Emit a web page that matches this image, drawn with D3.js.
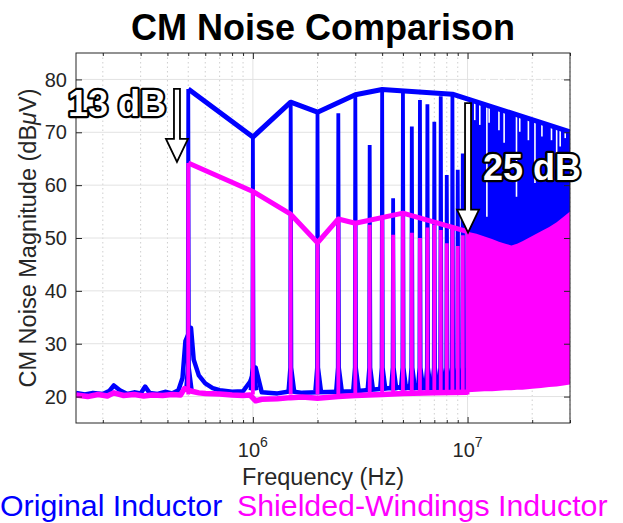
<!DOCTYPE html>
<html>
<head>
<meta charset="utf-8">
<script src="https://cdn.jsdelivr.net/npm/d3@7"></script>
<style>
  html, body { margin: 0; padding: 0; background: #fff; }
  svg { display: block; font-family: "Liberation Sans", Arial, sans-serif; }
</style>
</head>
<body>
<div id="chart"></div>
<script>
// harmonics of the 500 kHz switching frequency (MHz) and peak levels (dBuV)
const harmonicFreq = [0.5, 1, 1.5, 2, 2.5, 3, 3.5, 4, 4.5, 5, 5.5, 6, 6.5, 7, 7.5, 8, 8.5, 9, 9.5, 10]
const bluePeak = [78.2, 69.1, 75.7, 73.7, 73.6, 77.0, 67.6, 78.0, 57.5, 77.8, 71.1, 76.1, 75.3, 72.0, 76.8, 61.9, 77.0, 62.9, 66.0, 75.0]
const pinkPeak = [64.2, 58.8, 54.5, 49.0, 53.6, 52.8, 52.5, 53.5, 50.6, 54.7, 51.0, 50.0, 52.0, 52.5, 51.5, 49.0, 51.8, 48.5, 50.5, 51.2]

// noise floor (MHz / dBuV)
const blueFloorF = [0.15, 0.165, 0.18, 0.2, 0.215, 0.225, 0.24, 0.26, 0.28, 0.3, 0.315, 0.33, 0.36, 0.39, 0.42, 0.45, 0.47, 0.485, 0.515, 0.53, 0.56, 0.6, 0.65, 0.7, 0.8, 0.9, 0.97, 1.03, 1.1, 1.3, 1.5, 1.7, 2, 2.5, 3, 4, 5, 6, 8, 10]
const blueFloor = [20.7, 20.4, 20.7, 20.5, 21.1, 22.1, 21.2, 20.5, 20.8, 20.6, 21.9, 20.7, 20.5, 20.9, 20.6, 21.2, 23.5, 30.5, 33.0, 27.0, 24.0, 22.5, 21.6, 21.2, 20.9, 21.0, 22.8, 25.5, 20.8, 20.6, 21.0, 20.7, 20.8, 20.9, 21.0, 21.5, 21.8, 22.2, 22.5, 22.5]
const pinkFloorF = [0.15, 0.17, 0.19, 0.21, 0.225, 0.25, 0.28, 0.31, 0.34, 0.38, 0.42, 0.46, 0.48, 0.52, 0.56, 0.6, 0.7, 0.8, 0.9, 0.97, 1.03, 1.1, 1.3, 1.5, 1.7, 2, 2.5, 3, 4, 5, 7, 10]
const pinkFloor = [20.3, 20.0, 20.4, 20.1, 20.7, 20.2, 20.4, 20.1, 20.3, 20.2, 20.4, 20.3, 21.5, 21.0, 20.7, 20.6, 20.5, 20.3, 20.2, 20.3, 19.2, 19.5, 19.6, 19.8, 19.9, 19.7, 20.0, 20.2, 20.4, 20.6, 20.7, 20.8]

// dense band above 10 MHz
const blueDenseF = [10.2, 12, 15, 20, 25, 30]
const blueDenseTop = [76.0, 75.0, 73.7, 72.1, 70.9, 69.9]
const notchFreq = [10.8, 11.4, 12.3, 12.6, 14.0, 14.8, 16.9, 17.5, 19.2, 20.6, 22.2, 24.6, 26.0, 27.0, 28.5]
const notchLevel = [72.3, 71.4, 54.0, 71.8, 70.4, 68.0, 57.8, 70.1, 68.5, 60.4, 69.2, 68.5, 63.0, 67.3, 68.9]
const pinkDenseF = [10, 11, 12, 13, 14, 15, 16, 17, 18, 20, 22, 24, 26, 28, 30]
const pinkDenseTop = [51.2, 50.8, 50.3, 49.8, 49.3, 48.9, 48.6, 48.9, 49.4, 50.4, 51.3, 52.1, 53.0, 54.0, 55.0]
const pinkDenseBottom = [20.8, 20.9, 21.0, 21.0, 21.1, 21.2, 21.2, 21.3, 21.3, 21.5, 21.6, 21.8, 21.9, 22.1, 22.3]

// envelopes
const blueEnvF = [0.5, 1, 1.5, 2, 3, 4, 8.5, 30]
const blueEnvV = [78.2, 69.1, 75.7, 73.8, 77.1, 78.1, 77.2, 70.1]
const pinkEnvF = [0.5, 1, 1.5, 2, 2.5, 3, 5, 10]
const pinkEnvV = [64.2, 58.8, 54.5, 49.1, 53.6, 52.8, 54.7, 51.2]

// annotations
const arrowF = [0.443, 10.05]
const arrowTop = [78.2, 75.5]
const arrowTip = [64.4, 51.0]
const arrowLabel = ['13 dB', '25 dB']

// axes
const xMajor = [1, 10]
const xMajorExp = ['6', '7']
const xMinor = [0.2, 0.3, 0.4, 0.5, 0.6, 0.7, 0.8, 0.9, 2, 3, 4, 5, 6, 7, 8, 9, 20, 30]
const yTicks = [20, 30, 40, 50, 60, 70, 80]

const BLUE = '#0000ff', PINK = '#ff00ff', AX = '#262626'
const W = 623, H = 523
const L = 76, R = 570, T = 53, B = 423

const svg = d3.select('#chart').append('svg').attr('width', W).attr('height', H)

const x = d3.scaleLog().domain([0.15, 30]).range([L, R])
const y = d3.scaleLinear().domain([15, 85]).range([B, T])

svg.append('defs').append('clipPath').attr('id', 'plot')
  .append('rect').attr('x', L).attr('y', T).attr('width', R - L).attr('height', B - T)

// grid
const grid = svg.append('g')
grid.selectAll('.mg').data(xMinor).join('line')
  .attr('x1', d => x(d)).attr('x2', d => x(d)).attr('y1', T).attr('y2', B)
  .attr('stroke', '#cfcfcf').attr('stroke-width', 1).attr('stroke-dasharray', '1.5,3')
grid.selectAll('.vg').data(xMajor).join('line')
  .attr('x1', d => x(d)).attr('x2', d => x(d)).attr('y1', T).attr('y2', B)
  .attr('stroke', '#e2e2e2').attr('stroke-width', 1)
grid.selectAll('.hg').data(yTicks).join('line')
  .attr('x1', L).attr('x2', R).attr('y1', d => y(d)).attr('y2', d => y(d))
  .attr('stroke', '#e2e2e2').attr('stroke-width', 1)

const plot = svg.append('g').attr('clip-path', 'url(#plot)')
const line = d3.line().x(d => x(d[0])).y(d => y(d[1]))

// --- blue (original inductor) ---
plot.append('path')
  .attr('d', line(d3.zip(blueFloorF, blueFloor)))
  .attr('fill', 'none').attr('stroke', BLUE).attr('stroke-width', 4.5).attr('stroke-linejoin', 'round')

const blueBand = d3.area().x(d => x(d[0])).y0(y(45)).y1(d => y(d[1]))
plot.append('path').attr('d', blueBand(d3.zip(blueDenseF, blueDenseTop))).attr('fill', BLUE)
plot.selectAll('.notch').data(d3.zip(notchFreq, notchLevel)).join('line')
  .attr('x1', d => x(d[0])).attr('x2', d => x(d[0]))
  .attr('y1', T).attr('y2', d => y(d[1]))
  .attr('stroke', '#fff').attr('stroke-width', 1.6)

harmonicFreq.forEach((f, i) => {
  const pts = [[f * 0.975, 21.2], [f * 0.994, 25.5], [f, bluePeak[i]], [f * 1.008, 25.5], [f * 1.04, 21.2]]
  plot.append('path').attr('d', line(pts))
    .attr('fill', BLUE).attr('stroke', BLUE).attr('stroke-width', 3.8).attr('stroke-linejoin', 'bevel')
})

// --- magenta (shielded-windings inductor) ---
const pinkBand = d3.area().x(d => x(d[0])).y0(d => y(d[1])).y1(d => y(d[2]))
plot.append('path').attr('d', pinkBand(d3.zip(pinkDenseF, pinkDenseBottom, pinkDenseTop))).attr('fill', PINK)
plot.append('path')
  .attr('d', line(d3.zip(pinkFloorF, pinkFloor)))
  .attr('fill', 'none').attr('stroke', PINK).attr('stroke-width', 5.5).attr('stroke-linejoin', 'round')
harmonicFreq.forEach((f, i) => {
  plot.append('path').attr('d', line([[f, 20.4], [f, pinkPeak[i]]]))
    .attr('fill', 'none').attr('stroke', PINK).attr('stroke-width', 3.8)
})

// envelopes
plot.append('path').attr('d', line(d3.zip(blueEnvF, blueEnvV)))
  .attr('fill', 'none').attr('stroke', BLUE).attr('stroke-width', 5).attr('stroke-linejoin', 'round')
plot.append('path').attr('d', line(d3.zip(pinkEnvF, pinkEnvV)))
  .attr('fill', 'none').attr('stroke', PINK).attr('stroke-width', 5).attr('stroke-linejoin', 'round')

// --- axes box & ticks ---
const ax = svg.append('g')
ax.append('rect').attr('x', L).attr('y', T).attr('width', R - L).attr('height', B - T)
  .attr('fill', 'none').attr('stroke', AX).attr('stroke-width', 1)

ax.append('g').attr('transform', `translate(0,${B})`)
  .call(d3.axisBottom(x).tickValues(xMajor).tickSize(-6).tickFormat(''))
ax.append('g').attr('transform', `translate(0,${B})`)
  .call(d3.axisBottom(x).tickValues(xMinor).tickSize(-3).tickFormat(''))
ax.append('g').attr('transform', `translate(0,${T})`)
  .call(d3.axisTop(x).tickValues(xMajor).tickSize(-6).tickFormat(''))
ax.append('g').attr('transform', `translate(0,${T})`)
  .call(d3.axisTop(x).tickValues(xMinor).tickSize(-3).tickFormat(''))
ax.append('g').attr('transform', `translate(${L},0)`)
  .call(d3.axisLeft(y).tickValues(yTicks).tickSize(-6).tickFormat(''))
ax.append('g').attr('transform', `translate(${R},0)`)
  .call(d3.axisRight(y).tickValues(yTicks).tickSize(-6).tickFormat(''))
ax.selectAll('.domain').remove()
ax.selectAll('.tick line').attr('stroke', AX)

// tick labels
ax.selectAll('.ylab').data(yTicks).join('text')
  .attr('x', L - 9).attr('y', d => y(d)).attr('dy', '0.36em')
  .attr('text-anchor', 'end').attr('font-size', 20).attr('fill', AX)
  .text(d => d)
const xl = ax.selectAll('.xlab').data(xMajor).join('text')
  .attr('x', d => x(d)).attr('y', 457).attr('text-anchor', 'middle').attr('fill', AX)
xl.append('tspan').attr('font-size', 20).text('10')
xl.append('tspan').attr('font-size', 14).attr('dy', -10).text((d, i) => xMajorExp[i])

// axis titles
svg.append('text').attr('x', (L + R) / 2).attr('y', 485).attr('text-anchor', 'middle')
  .attr('font-size', 23.5).attr('fill', AX).text('Frequency (Hz)')
const yt = svg.append('text').attr('transform', `translate(36,${(T + B) / 2}) rotate(-90)`)
  .attr('text-anchor', 'middle').attr('font-size', 23.5).attr('fill', AX)
yt.append('tspan').text('CM Noise Magnitude (dB')
yt.append('tspan').attr('font-style', 'italic').text('\u03bc')
yt.append('tspan').text('V)')

svg.append('text').attr('x', (L + R) / 2).attr('y', 40).attr('text-anchor', 'middle')
  .attr('font-size', 36).attr('font-weight', 'bold').attr('fill', '#000').text('CM Noise Comparison')

// legend texts
svg.append('text').attr('x', 0).attr('y', 516).attr('font-size', 30.3).attr('fill', BLUE).text('Original Inductor')
svg.append('text').attr('x', 237).attr('y', 516).attr('font-size', 30.3).attr('fill', PINK).text('Shielded-Windings Inductor')

// --- arrows and labels ---
const ann = svg.append('g')
arrowF.forEach((f, i) => {
  const cx = x(f), y0 = y(arrowTop[i]), y1 = y(arrowTip[i])
  const hw = 3, hh = 11, hl = 23
  const p = d3.path()
  p.moveTo(cx - hw, y0); p.lineTo(cx + hw, y0); p.lineTo(cx + hw, y1 - hl)
  p.lineTo(cx + hh, y1 - hl); p.lineTo(cx, y1); p.lineTo(cx - hh, y1 - hl)
  p.lineTo(cx - hw, y1 - hl); p.closePath()
  ann.append('path').attr('d', p.toString())
    .attr('fill', '#fff').attr('stroke', '#000').attr('stroke-width', 1.8).attr('stroke-linejoin', 'miter')
})
const lab = [{ x: 166, y: 116, a: 'end' }, { x: 483, y: 180, a: 'start' }]
arrowLabel.forEach((t, i) => {
  ann.append('text').attr('x', lab[i].x).attr('y', lab[i].y).attr('text-anchor', lab[i].a)
    .attr('font-size', 36).attr('font-weight', 'bold')
    .attr('fill', '#fff').attr('stroke', '#000').attr('stroke-width', 4.5)
    .attr('stroke-linejoin', 'round').attr('paint-order', 'stroke')
    .text(t)
})
</script>
</body>
</html>
